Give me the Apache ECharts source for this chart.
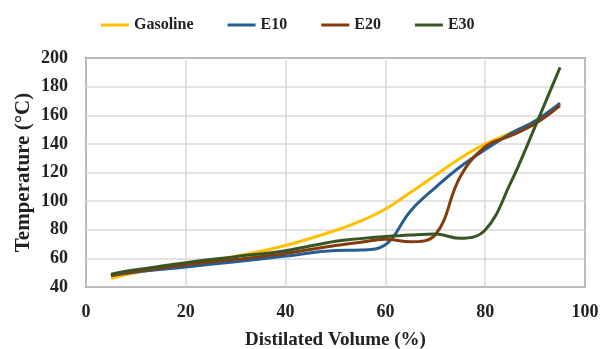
<!DOCTYPE html>
<html>
<head>
<meta charset="utf-8">
<script src="https://cdn.jsdelivr.net/npm/echarts@6/dist/echarts.min.js"></script>
<style>
  html, body { margin: 0; padding: 0; background: #fff; }
  #chart { width: 602px; height: 349px; }
</style>
</head>
<body>
<div id="chart"></div>
<script>
// distilled volume (%) and temperature (°C)
const volume = [5, 10, 20, 30, 40, 50, 55, 60, 65, 70, 75, 80, 85, 90, 95];
const gasoline = [46, 50, 55.5, 61.5, 69, 79.5, 86, 94.5, 106, 118, 130, 140, 147.5, 156, 168];
const e10 = [48, 50.5, 54, 57.7, 61.6, 65.5, 65.8, 69.5, 93, 109.5, 124, 136, 147, 156, 168.5];
const e20 = [48, 51, 55.6, 59.3, 63.5, 69, 71.3, 73.3, 71.6, 76.5, 117, 138, 145.5, 154, 166.7];
const e30 = [49, 52, 57, 61.2, 65.4, 72, 73.8, 75.2, 76.3, 77, 74, 79.8, 112, 152, 193.5];

const seriesNames = ["Gasoline", "E10", "E20", "E30"];
const seriesColors = ["#FFC000", "#255E91", "#843C0C", "#375623"];
const seriesData = [gasoline, e10, e20, e30];

const font = "Liberation Serif";
const chart = echarts.init(document.getElementById("chart"));

chart.setOption({
  animation: false,
  legend: {
    top: 12,
    left: 96,
    icon: "rect",
    itemWidth: 28,
    itemHeight: 3,
    itemGap: 34,
    textStyle: { fontFamily: font, fontWeight: "bold", fontSize: 16, color: "#222" },
    data: seriesNames,
  },
  grid: {
    left: 86,
    right: 17,
    top: 58,
    bottom: 62,
    outerBoundsMode: "none",
    show: true,
    borderColor: "#333",
    borderWidth: 1.5,
  },
  xAxis: {
    type: "value",
    min: 0,
    max: 100,
    interval: 20,
    name: "Distilated Volume (%)",
    nameLocation: "middle",
    nameGap: 44,
    nameTextStyle: { fontFamily: font, fontWeight: "bold", fontSize: 19, color: "#222" },
    axisLine: { show: false },
    axisTick: { show: false },
    axisLabel: { fontFamily: font, fontWeight: "bold", fontSize: 18, color: "#222", margin: 16 },
    splitLine: { lineStyle: { color: "#d9d9d9", width: 1.5 } },
  },
  yAxis: {
    type: "value",
    min: 40,
    max: 200,
    interval: 20,
    name: "Temperature (°C)",
    nameLocation: "middle",
    nameGap: 52,
    nameMoveOverlap: false,
    nameTextStyle: { fontFamily: font, fontWeight: "bold", fontSize: 21, color: "#222" },
    axisLine: { show: false },
    axisTick: { show: false },
    axisLabel: { fontFamily: font, fontWeight: "bold", fontSize: 18, color: "#222", margin: 18 },
    splitLine: { lineStyle: { color: "#d9d9d9", width: 1.5 } },
  },
  series: seriesNames.map((name, i) => ({
    name: name,
    type: "line",
    smooth: 0.4,
    showSymbol: false,
    color: seriesColors[i],
    lineStyle: { width: 3, color: seriesColors[i] },
    data: volume.map((v, j) => [v, seriesData[i][j]]),
  })),
});
</script>
</body>
</html>
